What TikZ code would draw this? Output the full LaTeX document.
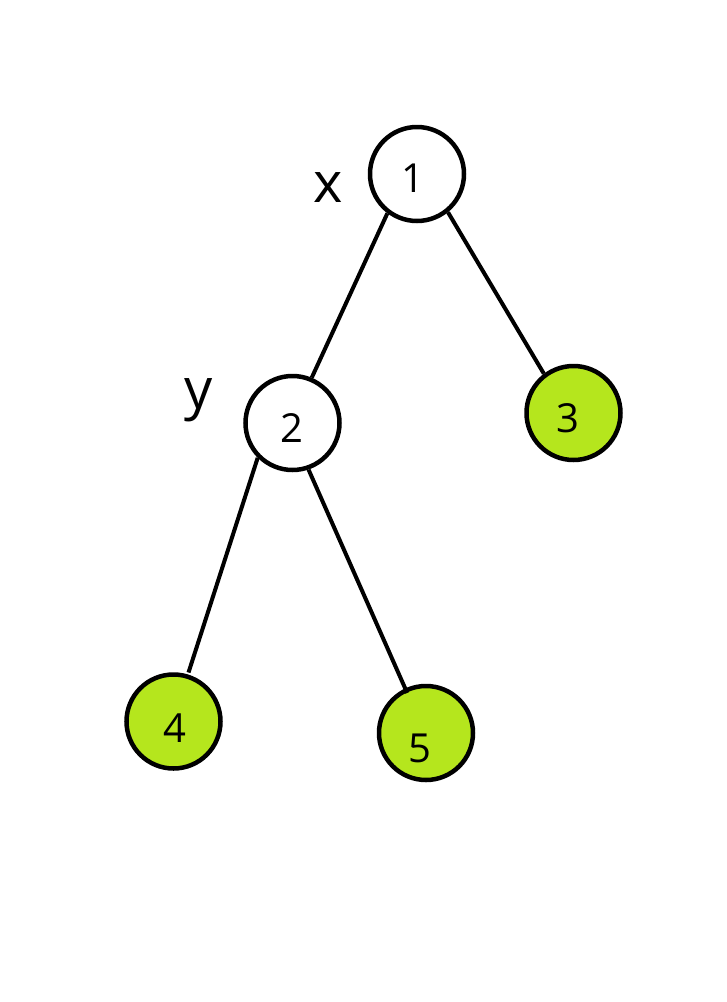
\documentclass[tikz,border=0pt]{standalone}
\usepackage{fontspec}
\setmainfont{Open Sans}
\usetikzlibrary{positioning}
\definecolor{c1}{RGB}{181, 230, 29}
\tikzset{
  vertex/.style={circle, draw=black, line width=4.5pt, minimum size=94pt, inner sep=0pt, fill=white},
  leaf/.style={vertex, fill=c1},
  num/.style={anchor=base, inner sep=0pt, font=\fontsize{40}{42}\selectfont},
  tag/.style={anchor=base, inner sep=0pt, font=\fontsize{56}{58}\selectfont},
  edge/.style={line width=4pt},
}
\begin{document}
\begin{tikzpicture}[x=1pt, y=-1pt]
\useasboundingbox (0,0) rectangle (727,1002);

\node[vertex] (n1) at (417,174){};
\node[vertex] (n2) at (292.5,423){};
\node[leaf] (n3) at (573.5,413){};
\node[leaf] (n4) at (173.5,721.5){};
\node[leaf] (n5) at (426,733){};

\draw (n1.-127) edge[edge] (n2.67);
\draw (n1.-51) edge[edge] (n3.127);
\draw (n2.-135) edge[edge, shorten >=2pt] (n4.73);
\draw (n2.-71) edge[edge, shorten >=-5pt] (n5.115);

\node[num] (t1) at ([shift={(-4,18)}]n1.center) {1};
\node[num] (t2) at ([shift={(-1,19)}]n2.center) {2};
\node[num] (t3) at ([shift={(-6,19)}]n3.center) {3};
\node[num] (t4) at ([shift={(1,21)}]n4.center) {4};
\node[num] (t5) at ([shift={(-6,29)}]n5.center) {5};

\node[tag] (x) at (328,202) {x};
\node[tag] (y) at (199,408) {y};

\end{tikzpicture}
\end{document}
